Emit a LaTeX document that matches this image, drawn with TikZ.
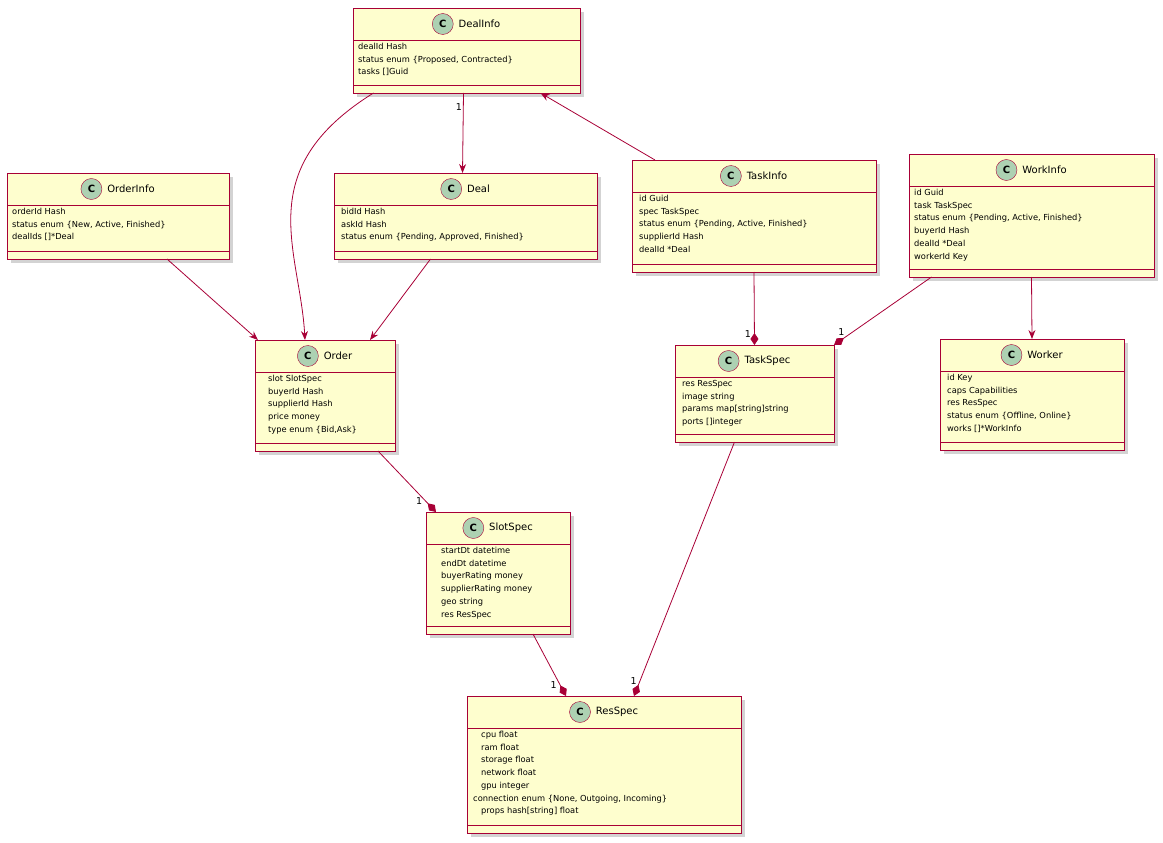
\documentclass[tikz,border=0pt]{standalone}
\usepackage{fontspec}
\setmainfont{DejaVu Sans}
\usetikzlibrary{arrows.meta,shadows}
\definecolor{umlfill}{HTML}{FEFECE}
\definecolor{umlred}{HTML}{A80036}
\definecolor{umlbadge}{HTML}{ADD1B2}
\tikzset{
  umlbox/.style={draw=umlred,fill=umlfill,line width=0.9pt,inner sep=0pt,outer sep=0pt,
    drop shadow={opacity=0.35,shadow xshift=4pt,shadow yshift=-4pt}},
  umlsep/.style={draw=umlred,line width=0.9pt},
  cbadge/.style={circle,draw=umlred,fill=umlbadge,minimum size=21pt,inner sep=0pt,font=\fontsize{10}{10}\selectfont\bfseries},
  umltitle/.style={font=\fontsize{10}{12}\selectfont,inner sep=0pt},
  umlattr/.style={anchor=north west,align=left,inner sep=0pt,font=\fontsize{8.3}{12.7}\selectfont},
  assoc/.style={draw=umlred,line width=0.8pt},
  arr/.style={assoc,-{Stealth[length=9pt,width=7pt,inset=3pt]}},
  comp/.style={assoc,-{Diamond[length=12pt,width=8pt]}},
  mult/.style={font=\fontsize{9.5}{10}\selectfont,inner sep=1pt,text=black}
}
% name, x1, y1, x2, y2, title, attributes, attribute indent
\newcommand\umlclass[8]{%
  \node[umlbox,minimum width={(#4-#2)*1pt},minimum height={(#5-#3)*1pt}] (#1) at ({(#2+#4)/2},{(#3+#5)/2}) {};
  \draw[umlsep] ([yshift=-32pt]#1.north west) -- ([yshift=-32pt]#1.north east);
  \draw[umlsep] ([yshift=8pt]#1.south west) -- ([yshift=8pt]#1.south east);
  \node[umltitle] (#1-name) at ([xshift=13pt,yshift=-16pt]#1.north) {#6};
  \node[cbadge,left=5pt] (#1-c) at (#1-name.west) {C};
  \node[umlattr] (#1-attr) at ([xshift=#8pt,yshift=-35pt]#1.north west) {#7};
}
\begin{document}
\begin{tikzpicture}[x=1pt,y=-1pt]
\useasboundingbox (0,0) rectangle (1163,843);

\umlclass{dealinfo}{353}{8}{580}{93}{DealInfo}{dealId Hash\\status enum \{Proposed, Contracted\}\\tasks []Guid}{5}
\umlclass{orderinfo}{7}{173}{229}{259}{OrderInfo}{orderId Hash\\status enum \{New, Active, Finished\}\\dealIds []*Deal}{5}
\umlclass{deal}{334}{173}{597}{259}{Deal}{bidId Hash\\askId Hash\\status enum \{Pending, Approved, Finished\}}{7}
\umlclass{taskinfo}{632}{160}{876}{272}{TaskInfo}{id Guid\\spec TaskSpec\\status enum \{Pending, Active, Finished\}\\supplierId Hash\\dealId *Deal}{7}
\umlclass{workinfo}{909}{154}{1154}{277}{WorkInfo}{id Guid\\task TaskSpec\\status enum \{Pending, Active, Finished\}\\buyerId Hash\\dealId *Deal\\workerId Key}{5}
\umlclass{order}{255}{340}{395}{451}{Order}{slot SlotSpec\\buyerId Hash\\supplierId Hash\\price money\\type enum \{Bid,Ask\}}{13}
\umlclass{taskspec}{675}{345}{834}{442}{TaskSpec}{res ResSpec\\image string\\params map[string]string\\ports []integer}{7}
\umlclass{worker}{940}{339}{1124}{450}{Worker}{id Key\\caps Capabilities\\res ResSpec\\status enum \{Offline, Online\}\\works []*WorkInfo}{7}
\umlclass{slotspec}{426}{512}{570}{634}{SlotSpec}{startDt datetime\\endDt datetime\\buyerRating money\\supplierRating money\\geo string\\res ResSpec}{15}
\umlclass{resspec}{467}{696}{741}{833}{ResSpec}{\hspace{8pt}cpu float\\\hspace{8pt}ram float\\\hspace{8pt}storage float\\\hspace{8pt}network float\\\hspace{8pt}gpu integer\\connection enum \{None, Outgoing, Incoming\}\\\hspace{8pt}props hash[string] float}{6}

% connectors
\draw[arr] ([xshift=-93pt]dealinfo.south) .. controls (250,170) and (300,250) .. ([xshift=-20pt]order.north);
\draw[arr] ([xshift=-3pt]dealinfo.south) -- ([xshift=-3pt]deal.north) node[mult,pos=0.18,left] {1};
\draw[arr] ([xshift=-99pt]taskinfo.north) -- ([xshift=74pt]dealinfo.south);
\draw[arr] ([xshift=49pt]orderinfo.south) -- ([xshift=-67pt]order.north);
\draw[arr] ([xshift=-35pt]deal.south) -- ([xshift=45pt]order.north);
\draw[comp] (taskinfo.south) -- (taskspec.north) node[mult,pos=0.85,left=2pt] {1};
\draw[comp] ([xshift=-100pt]workinfo.south) -- (taskspec.north east) node[mult,pos=0.88,above left=0pt] {1};
\draw[arr] (workinfo.south) -- (worker.north);
\draw[comp] ([xshift=53pt]order.south) -- ([xshift=-62pt]slotspec.north) node[mult,pos=0.82,left=2pt] {1};
\draw[comp] ([xshift=35pt]slotspec.south) -- ([xshift=-38pt]resspec.north) node[mult,pos=0.82,left=2pt] {1};
\draw[comp] ([xshift=-20pt]taskspec.south) -- ([xshift=30pt]resspec.north) node[mult,pos=0.94,left=2pt] {1};
\end{tikzpicture}
\end{document}
